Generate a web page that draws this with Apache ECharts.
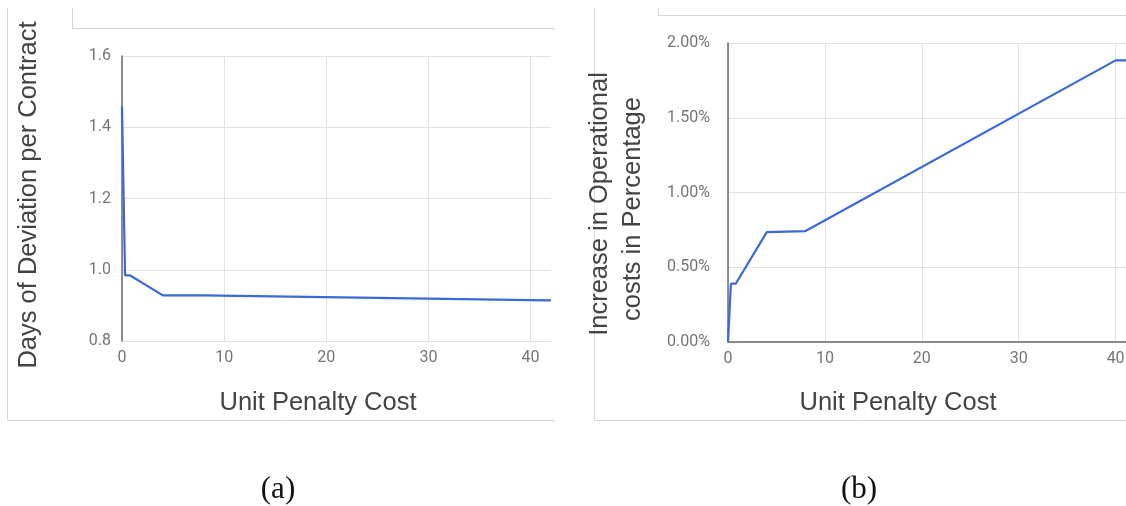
<!DOCTYPE html>
<html>
<head>
<meta charset="utf-8">
<script src="https://cdn.jsdelivr.net/npm/echarts@6/dist/echarts.min.js"></script>
<style>
html,body{margin:0;padding:0;background:#fff;}
#chart{width:1126px;height:506px;}
</style>
</head>
<body>
<div id="chart"></div>
<script>
// ---- data ----
const penaltyCost   = [0, 0.3, 0.8, 4, 8, 40, 42];
const deviationDays = [1.458, 0.984, 0.984, 0.928, 0.928, 0.915, 0.914];
const costIncreasePct = [0, 0.39, 0.39, 0.735, 0.742, 1.884, 1.884];

const xTitle = 'Unit Penalty Cost';
const yTitleA = 'Days of Deviation per Contract';
const yTitleB = ['Increase in Operational', 'costs in Percentage'];
const captions = ['(a)', '(b)'];

const pairs = (xs, ys) => xs.map((x, i) => [x, ys[i]]);

const tickColor = '#757575';
const titleColor = '#444';
const gridColor = '#e2e2e2';
const axisColor = '#6a6a6a';
const lineColor = '#3a6ad8';
const tickFont = 'Roboto';
const titleFont = '"Liberation Sans", Arial, sans-serif';
const titleSize = '25.5px ';

const chart = echarts.init(document.getElementById('chart'), null, {renderer: 'canvas'});

function xAxisCfg(gridIndex, showLine) {
  return {
    type: 'value', gridIndex, min: 0, max: 42, interval: 10,
    axisLine: {show: showLine, onZero: false, lineStyle: {color: axisColor, width: 1.5}},
    axisTick: {show: false},
    axisLabel: {color: tickColor, fontSize: 16, fontFamily: tickFont, margin: 9, showMaxLabel: false},
    splitLine: {show: true, showMaxLine: false, lineStyle: {color: gridColor, width: 1}}
  };
}

const frame = '#d6d6d6';
const option = {
  animation: false,
  grid: [
    {left: 122, top: 56, width: 429, height: 285, outerBoundsMode: 'none', containLabel: false},
    {left: 728, top: 43, width: 407, height: 299, outerBoundsMode: 'none', containLabel: false}
  ],
  xAxis: [xAxisCfg(0, false), xAxisCfg(1, true)],
  yAxis: [
    {
      type: 'value', gridIndex: 0, min: 0.8, max: 1.6, interval: 0.2,
      axisLine: {show: true, lineStyle: {color: axisColor, width: 1.5}},
      axisTick: {show: false},
      axisLabel: {color: tickColor, fontSize: 16, fontFamily: tickFont, margin: 11,
                  formatter: v => v.toFixed(1)},
      splitLine: {show: true, lineStyle: {color: gridColor, width: 1}}
    },
    {
      type: 'value', gridIndex: 1, min: 0, max: 2, interval: 0.5,
      axisLine: {show: true, lineStyle: {color: axisColor, width: 1.5}},
      axisTick: {show: false},
      axisLabel: {color: tickColor, fontSize: 16, fontFamily: tickFont, margin: 18,
                  formatter: v => v.toFixed(2) + '%'},
      splitLine: {show: true, lineStyle: {color: gridColor, width: 1}}
    }
  ],
  series: [
    {type: 'line', xAxisIndex: 0, yAxisIndex: 0, data: pairs(penaltyCost, deviationDays),
     showSymbol: false, lineStyle: {color: lineColor, width: 2.2}, clip: true},
    {type: 'line', xAxisIndex: 1, yAxisIndex: 1, data: pairs(penaltyCost, costIncreasePct),
     showSymbol: false, lineStyle: {color: lineColor, width: 2.2}, clip: true}
  ],
  graphic: [
    {type: 'polyline', silent: true, shape: {points: [[7.5, 8], [7.5, 420.5], [555, 420.5]]}, style: {stroke: frame, fill: null, lineWidth: 1}},
    {type: 'polyline', silent: true, shape: {points: [[72.5, 8], [72.5, 28.5], [555, 28.5]]}, style: {stroke: frame, fill: null, lineWidth: 1}},
    {type: 'polyline', silent: true, shape: {points: [[594.5, 8], [594.5, 420.5], [1126, 420.5]]}, style: {stroke: frame, fill: null, lineWidth: 1}},
    {type: 'polyline', silent: true, shape: {points: [[658.5, 8], [658.5, 15.5], [1126, 15.5]]}, style: {stroke: frame, fill: null, lineWidth: 1}},
    {type: 'text', x: 29, y: 195, rotation: Math.PI / 2,
     style: {text: yTitleA, font: titleSize + titleFont, fill: titleColor, textAlign: 'center', textVerticalAlign: 'middle'}},
    {type: 'text', x: 600, y: 204, rotation: Math.PI / 2,
     style: {text: yTitleB[0], font: titleSize + titleFont, fill: titleColor, textAlign: 'center', textVerticalAlign: 'middle'}},
    {type: 'text', x: 633, y: 209, rotation: Math.PI / 2,
     style: {text: yTitleB[1], font: titleSize + titleFont, fill: titleColor, textAlign: 'center', textVerticalAlign: 'middle'}},
    {type: 'text', x: 318, y: 403,
     style: {text: xTitle, font: titleSize + titleFont, fill: titleColor, textAlign: 'center', textVerticalAlign: 'middle'}},
    {type: 'text', x: 898, y: 403,
     style: {text: xTitle, font: titleSize + titleFont, fill: titleColor, textAlign: 'center', textVerticalAlign: 'middle'}},
    {type: 'text', x: 278, y: 490,
     style: {text: captions[0], font: '31px "Liberation Serif", serif', fill: '#111', textAlign: 'center', textVerticalAlign: 'middle'}},
    {type: 'text', x: 859, y: 490,
     style: {text: captions[1], font: '31px "Liberation Serif", serif', fill: '#111', textAlign: 'center', textVerticalAlign: 'middle'}}
  ]
};
chart.setOption(option);
</script>
</body>
</html>
